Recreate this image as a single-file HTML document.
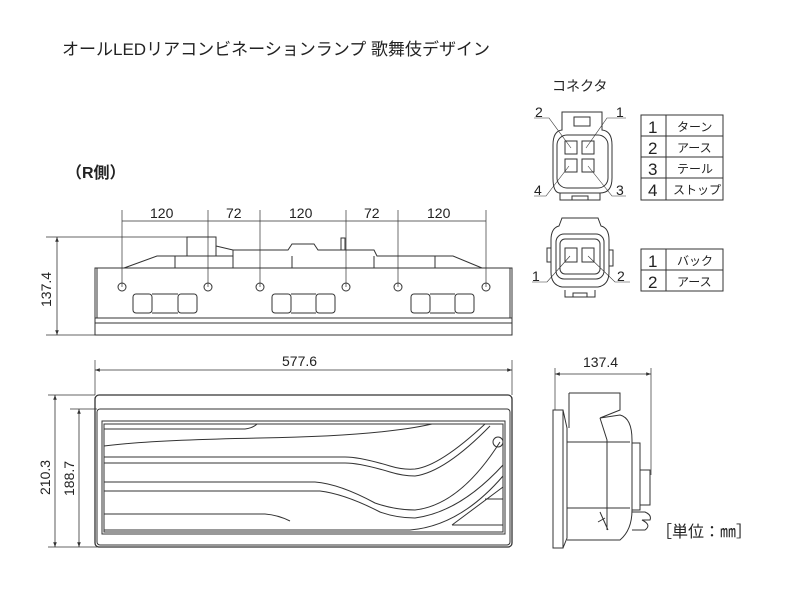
<!DOCTYPE html>
<html><head><meta charset="utf-8"><style>
body{margin:0;background:#fff;}
svg text{font-family:"Liberation Sans","Noto Sans CJK JP",sans-serif;fill:#222;}
</style></head><body>
<svg width="800" height="600" viewBox="0 0 800 600" xmlns="http://www.w3.org/2000/svg">
<defs><marker id="a" viewBox="0 0 8 6" refX="8" refY="3" markerWidth="6" markerHeight="5" orient="auto-start-reverse"><path d="M0,0L8,3L0,6z" fill="#333"/></marker></defs>
<text x="62" y="55" font-size="17">オールLEDリアコンビネーションランプ  歌舞伎デザイン</text>
<text x="66" y="178" font-size="16" font-weight="bold">（R側）</text>
<text x="552" y="91" font-size="14">コネクタ</text>

<g stroke="#333" fill="none" stroke-width="1">
<g stroke-width="0.7"><path d="M122,210V287M208,210V287M260,210V287M346,210V287M398,210V287M486,210V287"/>
<path d="M122,221H486" /><path d="M46,237H200M46,335H95"/></g>
<path d="M57,237V335" stroke-width="0.8" marker-start="url(#a)" marker-end="url(#a)"/>
<rect x="95" y="268" width="417" height="67"/>
<path d="M97,268V318M510,268V318M95,318H512M95,323H512"/>
<path d="M124,268L157,256H233V250H288L292,244H314L318,250H374L377,256H453L482,268"/>
<path d="M175,256V268M233,256V268M292,256V268M374,256V268M435,256V268"/>
<rect x="187" y="237" width="29" height="19"/><path d="M216,246L233,250"/>
<rect x="341" y="238" width="4" height="12"/>
<g><circle cx="122" cy="287" r="4"/><circle cx="208" cy="287" r="4"/><circle cx="260" cy="287" r="4"/><circle cx="346" cy="287" r="4"/><circle cx="398" cy="287" r="4"/><circle cx="486" cy="287" r="4"/></g>
<g><rect x="133" y="294" width="19" height="19" rx="3"/><rect x="178" y="294" width="19" height="19" rx="3"/><path d="M152,294H178M152,313H178"/>
<rect x="272" y="294" width="19" height="19" rx="3"/><rect x="316" y="294" width="19" height="19" rx="3"/><path d="M291,294H316M291,313H316"/>
<rect x="411" y="294" width="19" height="19" rx="3"/><rect x="455" y="294" width="19" height="19" rx="3"/><path d="M430,294H455M430,313H455"/></g>

<g stroke-width="0.7"><path d="M95,360V395M512,360V395M48,395H95M70,409H97M48,547H97"/></g>
<path d="M95,370H512" stroke-width="0.8" marker-start="url(#a)" marker-end="url(#a)"/>
<path d="M55,395V547" stroke-width="0.8" marker-start="url(#a)" marker-end="url(#a)"/>
<path d="M79,409V547" stroke-width="0.8" marker-start="url(#a)" marker-end="url(#a)"/>
<rect x="95" y="395" width="417" height="152" rx="4" stroke-width="1.3"/>
<rect x="97" y="409" width="413" height="136" rx="3"/>
<rect x="102" y="421" width="403" height="113"/>
<rect x="104" y="424" width="399" height="108"/>
<path d="M104,429H245Q253,428 257,424"/>
<path d="M104,446Q150,440 260,438Q380,436 432,424"/>
<path d="M104,457H345Q360,457 390,466Q403,470 415,469Q440,466 485,424"/>
<path d="M104,463H345Q360,463 390,472Q403,476 415,476Q445,472 490,426"/>
<path d="M104,482H315Q340,484 375,503Q395,510 415,510Q460,505 500,442"/>
<path d="M104,491H320Q345,494 380,512Q397,518 415,518Q460,512 503,465"/>
<path d="M104,514H265Q278,515 290,521"/>
<path d="M104,530H410Q460,526 503,476"/>
<circle cx="498" cy="442" r="5"/>
<path d="M485,499H503M452,525L503,487M452,525H503"/>

<g stroke-width="0.7"><path d="M555,368V410M651,368V475"/></g>
<path d="M555,374H651" stroke-width="0.8" marker-start="url(#a)" marker-end="url(#a)"/>
<rect x="553" y="410" width="10" height="138"/>
<path d="M563,410L567,428V538L563,548"/>
<path d="M569,393H620V410L600,418L620,415Q632,418 632,440V510Q632,530 620,540H567"/>
<path d="M569,393V428"/>
<path d="M567,442H630M567,508H630M600,418L607,440V530"/>
<path d="M632,443H640V510H632M640,470H650V505H640"/>
<path d="M632,512H645Q652,515 650,520H642Q652,525 645,530H632"/>
<path d="M600,512L608,530M598,522L605,518"/>

<path d="M562,112H602V130Q612,131 612,145V178Q612,193 600,193H560Q553,193 553,178V145Q553,131 562,130Z"/>
<rect x="557" y="135" width="51" height="53" rx="10"/>
<rect x="574" y="117" width="16" height="9"/>
<path d="M560,193V200H600V193M572,200V196H588V200"/>
<rect x="565" y="141" width="12" height="13"/><rect x="582" y="141" width="12" height="13"/>
<rect x="565" y="159" width="12" height="13"/><rect x="582" y="159" width="12" height="13"/>
<g stroke-width="0.6"><path d="M534,118H549L571,148M626,118H607L586,148M534,196H546L569,166M626,196H612L588,166"/></g>
<path d="M559,226L562,218H598L601,226Q609,228 609,240V272Q609,285 598,287H562Q551,285 551,272V240Q551,228 559,226Z"/>
<rect x="556" y="234" width="48" height="45" rx="8"/>
<rect x="560" y="239" width="40" height="35" rx="5"/>
<path d="M565,290V297H595V290M573,297V293H587V297M551,248H547V262H551M609,250H613V266H609"/>
<rect x="565" y="248" width="12" height="14"/><rect x="582" y="248" width="12" height="14"/>
<g stroke-width="0.6"><path d="M532,282H547L570,256M630,282H615L588,256"/></g>

<rect x="641" y="115" width="82" height="85"/><path d="M641,136H723M641,157H723M641,178H723M666,115V200"/>
<rect x="641" y="249" width="82" height="42"/><path d="M641,270H723M666,249V291"/>
</g>
<g font-size="14">
<text x="535" y="117">2</text><text x="616" y="117">1</text><text x="534" y="195">4</text><text x="616" y="195">3</text>
<text x="532" y="281">1</text><text x="617" y="281">2</text>
</g>
<g font-size="17"><text x="648" y="133">1</text><text x="648" y="154">2</text><text x="648" y="175">3</text><text x="648" y="196">4</text><text x="648" y="267">1</text><text x="648" y="288">2</text></g>
<g font-size="12"><text x="677" y="131">ターン</text><text x="677" y="152">アース</text><text x="677" y="173">テール</text><text x="673" y="194">ストップ</text><text x="677" y="265">バック</text><text x="677" y="286">アース</text></g>
<g font-size="14">
<text x="150" y="218">120</text><text x="226" y="218">72</text><text x="289" y="218">120</text><text x="364" y="218">72</text><text x="427" y="218">120</text>
<text x="282" y="366">577.6</text><text x="583" y="367">137.4</text>
<text transform="translate(51,307) rotate(-90)">137.4</text>
<text transform="translate(50,495) rotate(-90)">210.3</text>
<text transform="translate(74,496) rotate(-90)">188.7</text>
</g>
<text x="656" y="537" font-size="16">［単位：㎜］</text>
</svg>
</body></html>
